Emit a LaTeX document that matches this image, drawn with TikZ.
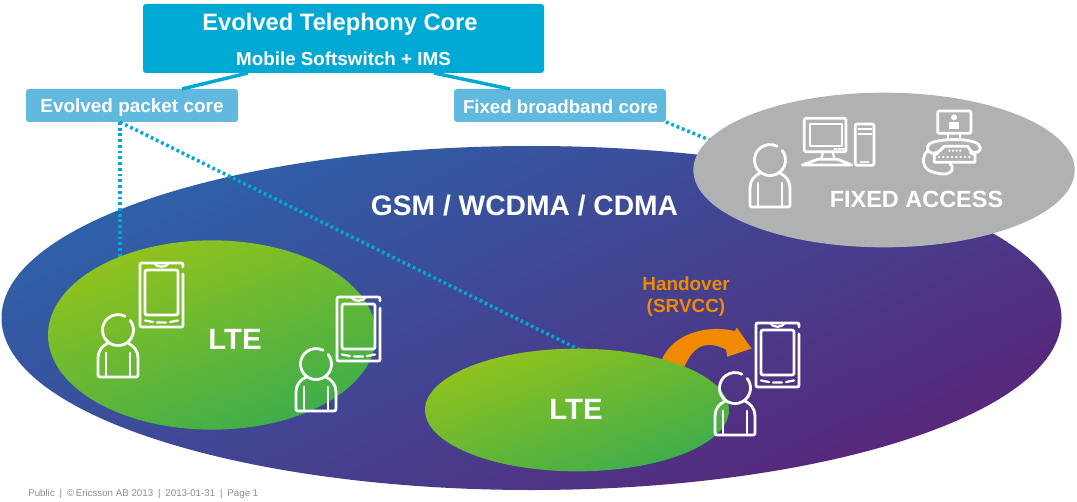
\documentclass[tikz,border=0pt]{standalone}
\usepackage{fontspec}
\setmainfont{Liberation Sans}
\usetikzlibrary{shapes.geometric,calc}
\definecolor{corecyan}{HTML}{00A9D4}
\definecolor{lightcyan}{HTML}{62B9DF}
\definecolor{mainblue}{HTML}{2D62AA}
\definecolor{mainpurple}{HTML}{58267A}
\definecolor{ltetop}{HTML}{92C31C}
\definecolor{ltebot}{HTML}{3DAD4C}
\definecolor{fixgray}{HTML}{B0B1B3}
\definecolor{handorange}{HTML}{F08A00}
\definecolor{footgray}{HTML}{8C8C8C}
\tikzset{
  blobshape/.style={ellipse,inner sep=0pt,outer sep=0pt,minimum width=#1},
  ltefill/.style={top color=ltetop,bottom color=ltebot,shading angle=20},
  mainfill/.style={top color=mainblue,bottom color=mainpurple,shading angle=25},
  boxnode/.style={rounded corners=2.2pt,inner sep=0pt,outer sep=0pt,anchor=north west},
  dotline/.style={corecyan,line width=2.6pt,dash pattern=on 2.1pt off 2.2pt},
  solidline/.style={corecyan,line width=2.6pt},
  icon/.style={white,line width=2.1pt,line cap=round,line join=round},
  iconthin/.style={white,line width=1.7pt,line cap=round,line join=round},
  whitebold/.style={text=white,font=\bfseries,inner sep=0pt},
  pics/personicon/.style={code={
    \draw[icon] (12.2,-9.5) arc[start angle=-38,delta angle=335,radius=15.5];
    \draw[icon] (-10,13) .. controls (-16,16) and (-20,21) .. (-20,28) -- (-20,45)
       .. controls (-20,46.5) and (-19,47) .. (-18,47) -- (18,47)
       .. controls (19,47) and (20,46.5) .. (20,45) -- (20,28)
       .. controls (20,21) and (16,16) .. (10,13);
    \draw[icon] (-12,23) -- (-12,47) (12,23) -- (12,47);
  }},
  pics/tableticon/.style={code={
    \draw[icon] (43,4) -- (43,2) .. controls (43,.5) and (42.5,0) .. (41,0) -- (2,0)
       .. controls (.5,0) and (0,.5) .. (0,2) -- (0,62) .. controls (0,63.5) and (.5,64) .. (2,64)
       -- (41,64) .. controls (42.5,64) and (43,63.5) .. (43,62) -- (43,11);
    \draw[iconthin] (14,0) .. controls (17,5) and (26,5) .. (29,0);
    \draw[icon,rounded corners=1.5pt] (5,7) rectangle (38,52);
    \draw[iconthin] (5,57.5) -- (13,59) (17,59.5) -- (26,59.5) (30,59) -- (38,57.5);
  }},
}
\begin{document}
\begin{tikzpicture}[x=.75pt,y=-.75pt]
\useasboundingbox (0,0) rectangle (1077,502);
% big ellipse
\node[blobshape=795pt,minimum height=258pt,mainfill] (mainblob) at (531.5,318) {};
% boxes
\node[boxnode,fill=corecyan,minimum width=300.75pt,minimum height=51.75pt] (core) at (143,4) {};
\node[boxnode,fill=lightcyan,minimum width=159pt,minimum height=24.75pt] (epc) at (26,89) {};
\node[boxnode,fill=lightcyan,minimum width=159pt,minimum height=24.75pt] (fbc) at (454,89) {};
\coordinate (coreL) at ($(core.south west)+(105,0)$);
\coordinate (coreR) at ($(core.south west)+(291,0)$);
\coordinate (epcT) at ($(epc.north west)+(156,0)$);
\coordinate (fbcT) at ($(fbc.north west)+(56,0)$);
\coordinate (epcB) at ($(epc.south west)+(94,0)$);
\coordinate (fbcB) at (fbc.south east);
\coordinate (lteA) at ($(epcB)+(0,140)$);
\coordinate (lteB) at (582,351);
\coordinate (fixP) at (712,141);
\draw[solidline] (coreL) -- (epcT);
\draw[solidline] (coreR) -- (fbcT);
\draw[dotline] (epcB) -- (lteA);
\draw[dotline] (epcB) -- (lteB);
\draw[dotline] (fbcB) -- (fixP);
% handover arrow
\fill[handorange] (662,359.5) .. controls (672,335) and (705,324) .. (735,331)
  -- (736.7,327.5) -- (751.5,348.5) -- (727.3,356.7) -- (726,349.5)
  .. controls (710,342) and (695,340) .. (683,370) -- cycle;
% LTE and fixed blobs
\node[blobshape=246pt,minimum height=142pt,ltefill] (lteone) at (212,335) {};
\node[blobshape=228pt,minimum height=92pt,ltefill] (ltetwo) at (577,410) {};
\node[blobshape=286pt,minimum height=116pt,fill=fixgray] (fixed) at (884,170) {};
% texts
\node[whitebold,font=\bfseries\fontsize{17.8}{20}\selectfont] (coreA) at (340,24.5) {Evolved Telephony Core};
\node[whitebold,font=\bfseries\fontsize{14.1}{16}\selectfont] (coreB) at (343.5,59) {Mobile Softswitch + IMS};
\node[whitebold,font=\bfseries\fontsize{14.2}{16}\selectfont] (epcText) at (132,107.5) {Evolved packet core};
\node[whitebold,font=\bfseries\fontsize{14}{16}\selectfont] (fbcText) at (560.5,106.5) {Fixed broadband core};
\node[whitebold,font=\bfseries\fontsize{21.15}{24}\selectfont] (gsm) at (524.5,206) {GSM / WCDMA / CDMA};
\node[whitebold,font=\bfseries\fontsize{17.6}{20}\selectfont] (fixedText) at (916.5,199) {FIXED ACCESS};
\node[whitebold,font=\bfseries\fontsize{22}{24}\selectfont] (lteText) at (235,339) {LTE};
\node[whitebold,font=\bfseries\fontsize{22}{24}\selectfont] (lteTextB) at (576,409) {LTE};
\node[text=handorange,font=\bfseries\fontsize{14.2}{16.5}\selectfont,align=center,inner sep=0pt] (hand) at (686,297) {Handover\\(SRVCC)};
\node[text=footgray,font=\fontsize{7.3}{9}\selectfont,anchor=west,inner sep=0pt] (foot) at (28,494) {Public\enspace|\enspace©\,Ericsson AB 2013\enspace|\enspace2013-01-31\enspace|\enspace Page 1};
% icons
\pic at (118,330) {personicon};
\pic at (316,364) {personicon};
\pic at (735,388) {personicon};
\pic at (770,160) {personicon};
\pic at (140,263) {tableticon};
\pic at (337,297) {tableticon};
\pic at (756,323) {tableticon};
% computer (coordinates are a third of a pixel from the corner)
\begin{scope}[shift={(795,110)},x=.25pt,y=-.25pt]
  \draw[icon,rounded corners=1pt] (153,38) -- (153,25) -- (28,25) -- (28,125) -- (153,125) -- (153,42);
  \draw[iconthin] (45,43) rectangle (142,108);
  \draw[iconthin] (118,117) -- (124,117) (130,117) -- (136,117) (141,117) -- (146,117);
  \draw[iconthin] (85,125) -- (78,148) (112,125) -- (119,148);
  \draw[icon] (22,165) -- (68,148) -- (128,148) -- (170,165) -- cycle;
  \draw[icon,rounded corners=1.5pt] (181,42) rectangle (237,166);
  \draw[iconthin] (190,58) -- (229,58) (190,72) -- (229,72);
  \draw[iconthin] (198,155) -- (202,155) (207,155) -- (211,155) (216,155) -- (220,155);
\end{scope}
% video phone
\begin{scope}[shift={(915,105)},x=.25pt,y=-.25pt]
  \draw[icon,rounded corners=1pt] (68,18) rectangle (168,85);
  \fill[white] (117,37) circle[radius=9];
  \fill[white] (103,50) rectangle (132,72);
  \draw[iconthin] (100,85) -- (100,100) (135,85) -- (135,100);
  \draw[icon] (52,145) .. controls (38,142) and (32,128) .. (42,118)
     .. controls (60,100) and (170,98) .. (190,118)
     .. controls (202,130) and (194,143) .. (180,143)
     .. controls (166,143) and (165,132) .. (158,124)
     -- (88,124) .. controls (78,132) and (76,143) .. (52,145);
  \draw[icon] (68,145) -- (58,150) -- (58,172) -- (180,172) -- (180,150) -- (166,143);
  \foreach \i in {0,1,2,3}{\fill[white] (103+11*\i,137) circle[radius=3.6];}
  \foreach \i in {0,1,2,3,4,5,6,7}{\fill[white] (72+13*\i,156) circle[radius=3.6];}
  \draw[icon] (38,138) .. controls (22,150) and (18,185) .. (45,198)
     .. controls (70,208) and (100,212) .. (110,198) .. controls (115,190) and (112,182) .. (105,176);
\end{scope}
\end{tikzpicture}
\end{document}
